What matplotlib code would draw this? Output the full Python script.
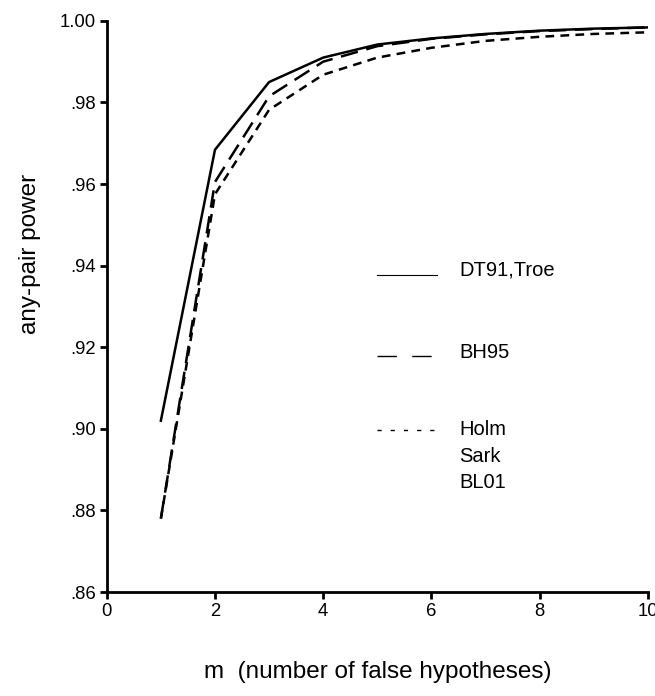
import matplotlib
matplotlib.use("Agg")
import matplotlib.pyplot as plt
from matplotlib.lines import Line2D

plt.rcParams['font.family'] = ['Liberation Sans', 'DejaVu Sans']

m = [1, 2, 3, 4, 5, 6, 7, 8, 9, 10]
dt91_troe = [0.902, 0.9684, 0.9850, 0.9910, 0.9942, 0.9957, 0.9968, 0.9976, 0.9981, 0.9984]
bh95 = [0.878, 0.9605, 0.9815, 0.9900, 0.9938, 0.9956, 0.9967, 0.9975, 0.9980, 0.9984]
holm_sark_bl01 = [0.878, 0.9575, 0.9782, 0.9868, 0.9910, 0.9934, 0.9951, 0.9961, 0.9968, 0.9972]

legend_labels = ["DT91,Troe", "BH95", "Holm\nSark\nBL01"]
yticks = [0.86, 0.88, 0.90, 0.92, 0.94, 0.96, 0.98, 1.00]
ytick_labels = [".86", ".88", ".90", ".92", ".94", ".96", ".98", "1.00"]
xticks = [0, 2, 4, 6, 8, 10]

fig = plt.figure(figsize=(6.55, 6.96), dpi=100)
ax = fig.add_axes([0.163, 0.1494, 0.826, 0.8206])

ax.plot(m, dt91_troe, color='black', lw=1.8, linestyle='-', solid_joinstyle='miter')
ax.plot(m, bh95, color='black', lw=1.8, linestyle=(0, (7, 3.5)))
ax.plot(m, holm_sark_bl01, color='black', lw=1.8, linestyle=(0, (3.5, 2.5)))

ax.set_xlim(0, 10)
ax.set_ylim(0.86, 1.00)
ax.set_xticks(xticks)
ax.set_xticklabels([str(t) for t in xticks], fontsize=13.3)
ax.set_yticks(yticks)
ax.set_yticklabels(ytick_labels, fontsize=13.3)
for s in ['top', 'right']:
    ax.spines[s].set_visible(False)
for s in ['left', 'bottom']:
    ax.spines[s].set_linewidth(2)
ax.tick_params(direction='out', length=5, width=2, pad=3)

# manual legend
styles = ['-', (0, (14, 11)), (0, (3, 6.5))]
lws = [0.8, 1.0, 1.0]
ly = [0.555, 0.413, 0.284]
ty = [0.564, 0.420, 0.284]
for st, lw, y, yt, lab in zip(styles, lws, ly, ty, legend_labels):
    ax.add_line(Line2D([0.499, 0.61], [y, y], transform=ax.transAxes,
                       color='black', lw=lw, linestyle=st, clip_on=False))
    for i, part in enumerate(lab.split("\n")):
        ax.text(0.652, yt - i * 0.0465, part, transform=ax.transAxes, fontsize=14.5,
                va='center', ha='left')

fig.text(0.577, 0.035, "m  (number of false hypotheses)", fontsize=17.5, ha='center', va='center')
fig.text(0.046, 0.635, "any-pair power", fontsize=17.5, rotation=90, ha='center', va='center')

fig.savefig("out.png", dpi=100)
